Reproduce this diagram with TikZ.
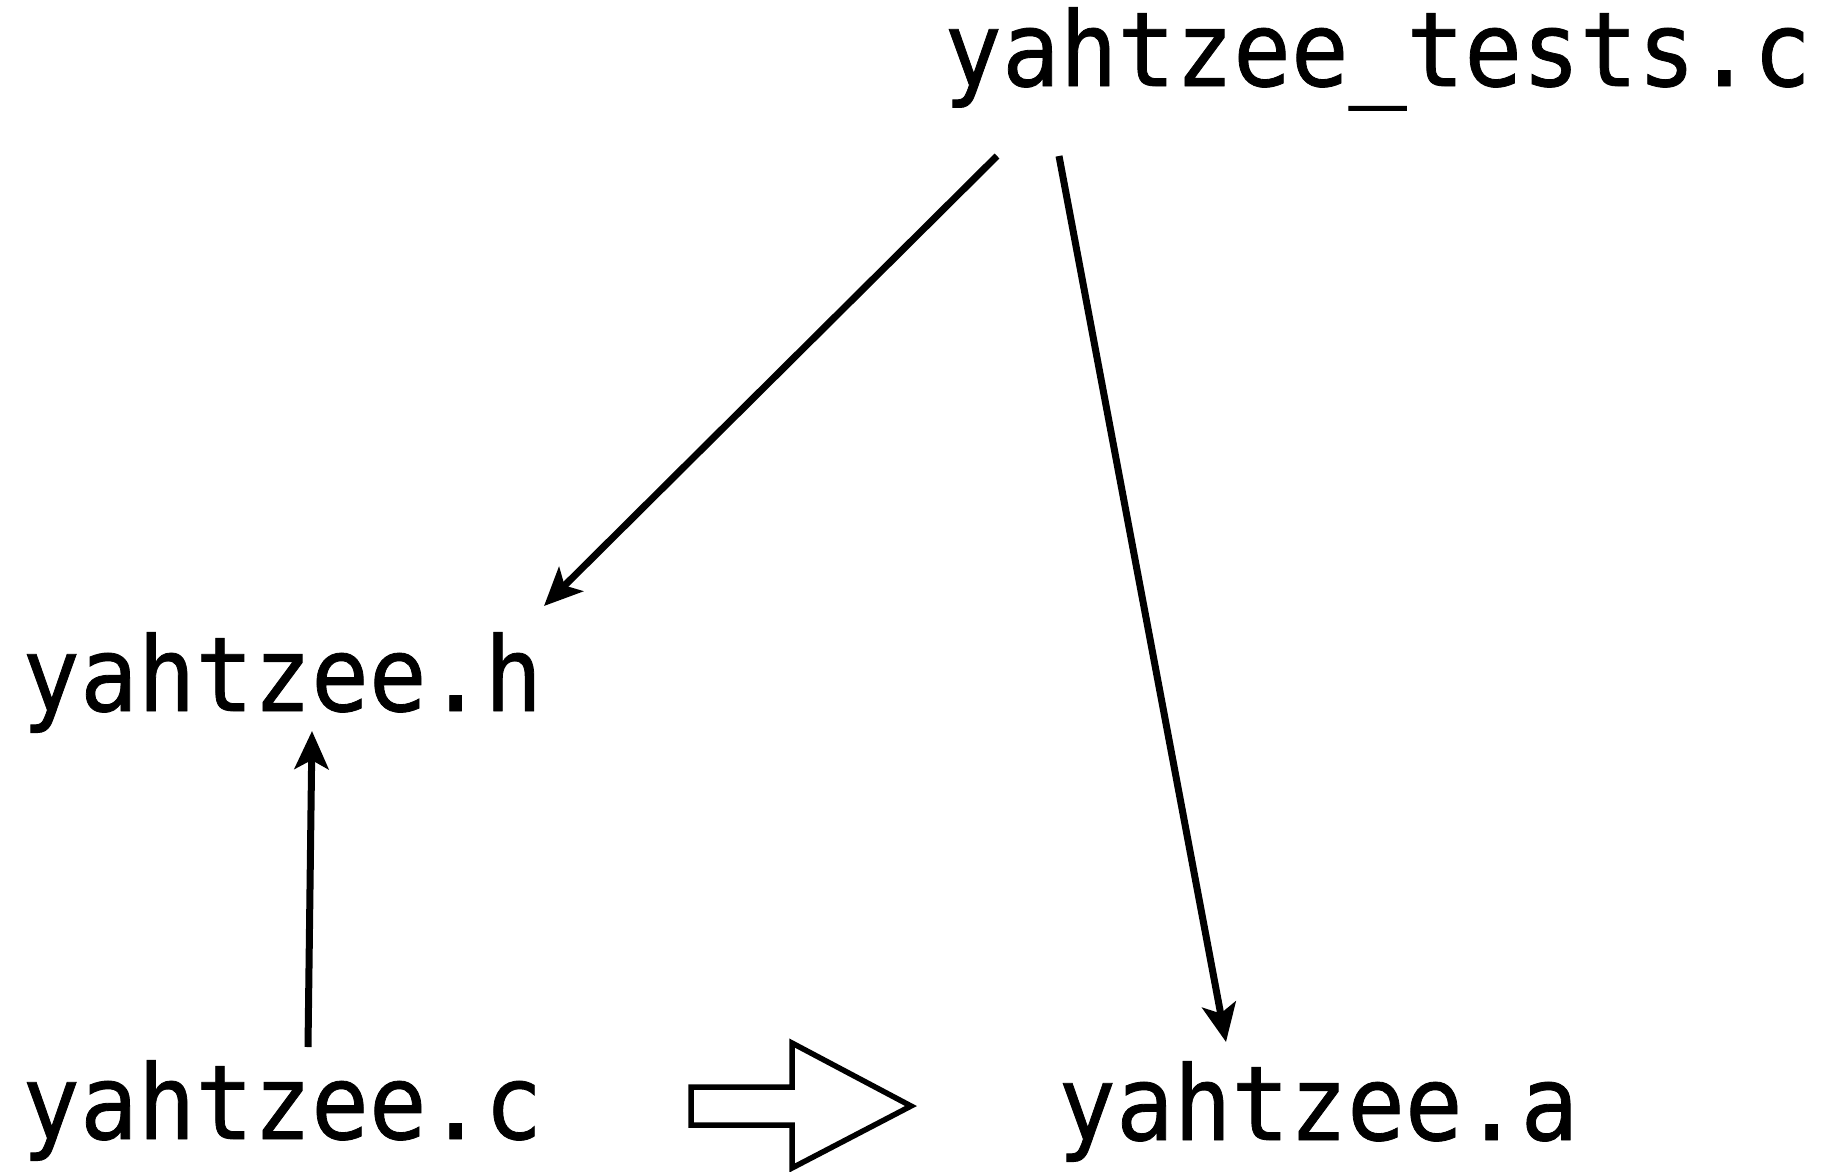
\documentclass[tikz,border=0pt]{standalone}
\usepackage{fontspec}
\usepackage{graphicx}
\newfontfamily\filefont[FakeBold=0.8]{DejaVu Sans Mono}
\usetikzlibrary{arrows.meta}
\newcommand{\filename}[1]{\scalebox{1}[1.08]{#1}}
\tikzset{
  file/.style={anchor=base west, inner sep=0pt, font=\filefont\fontsize{96}{96}\selectfont},
  dep/.style={line width=7pt, -{Stealth[length=38pt,width=34pt,inset=9pt]}},
  build/.style={line width=5.5pt, line join=miter, fill=white}
}
\begin{document}
\begin{tikzpicture}[x=1pt,y=-1pt]
  \useasboundingbox (0,0) rectangle (1828,1171);
  % source files and products
  \node[file] (tests) at (944,86) {\filename{yahtzee\_tests.c}};
  \node[file] (hdr) at (22,711) {\filename{yahtzee.h}};
  \node[file] (src) at (22,1139) {\filename{yahtzee.c}};
  \node[file] (lib) at (1058,1140) {\filename{yahtzee.a}};
  % connector end points
  \coordinate (tests-l) at (997,156);
  \coordinate (tests-r) at (1059,156);
  \coordinate (hdr-top) at (544,606);
  \coordinate (hdr-bot) at (312,731);
  \coordinate (src-top) at (308,1047);
  \coordinate (lib-top) at (1226,1042);
  % dependencies
  \draw[dep] (tests-l) -- (hdr-top);
  \draw[dep] (tests-r) -- (lib-top);
  \draw[dep] (src-top) -- (hdr-bot);
  % compile step: yahtzee.c becomes yahtzee.a
  \draw[build] (691,1087) -- (792,1087) -- (792,1043) -- (911,1106)
    -- (792,1168) -- (792,1125) -- (691,1125) -- cycle;
\end{tikzpicture}
\end{document}
